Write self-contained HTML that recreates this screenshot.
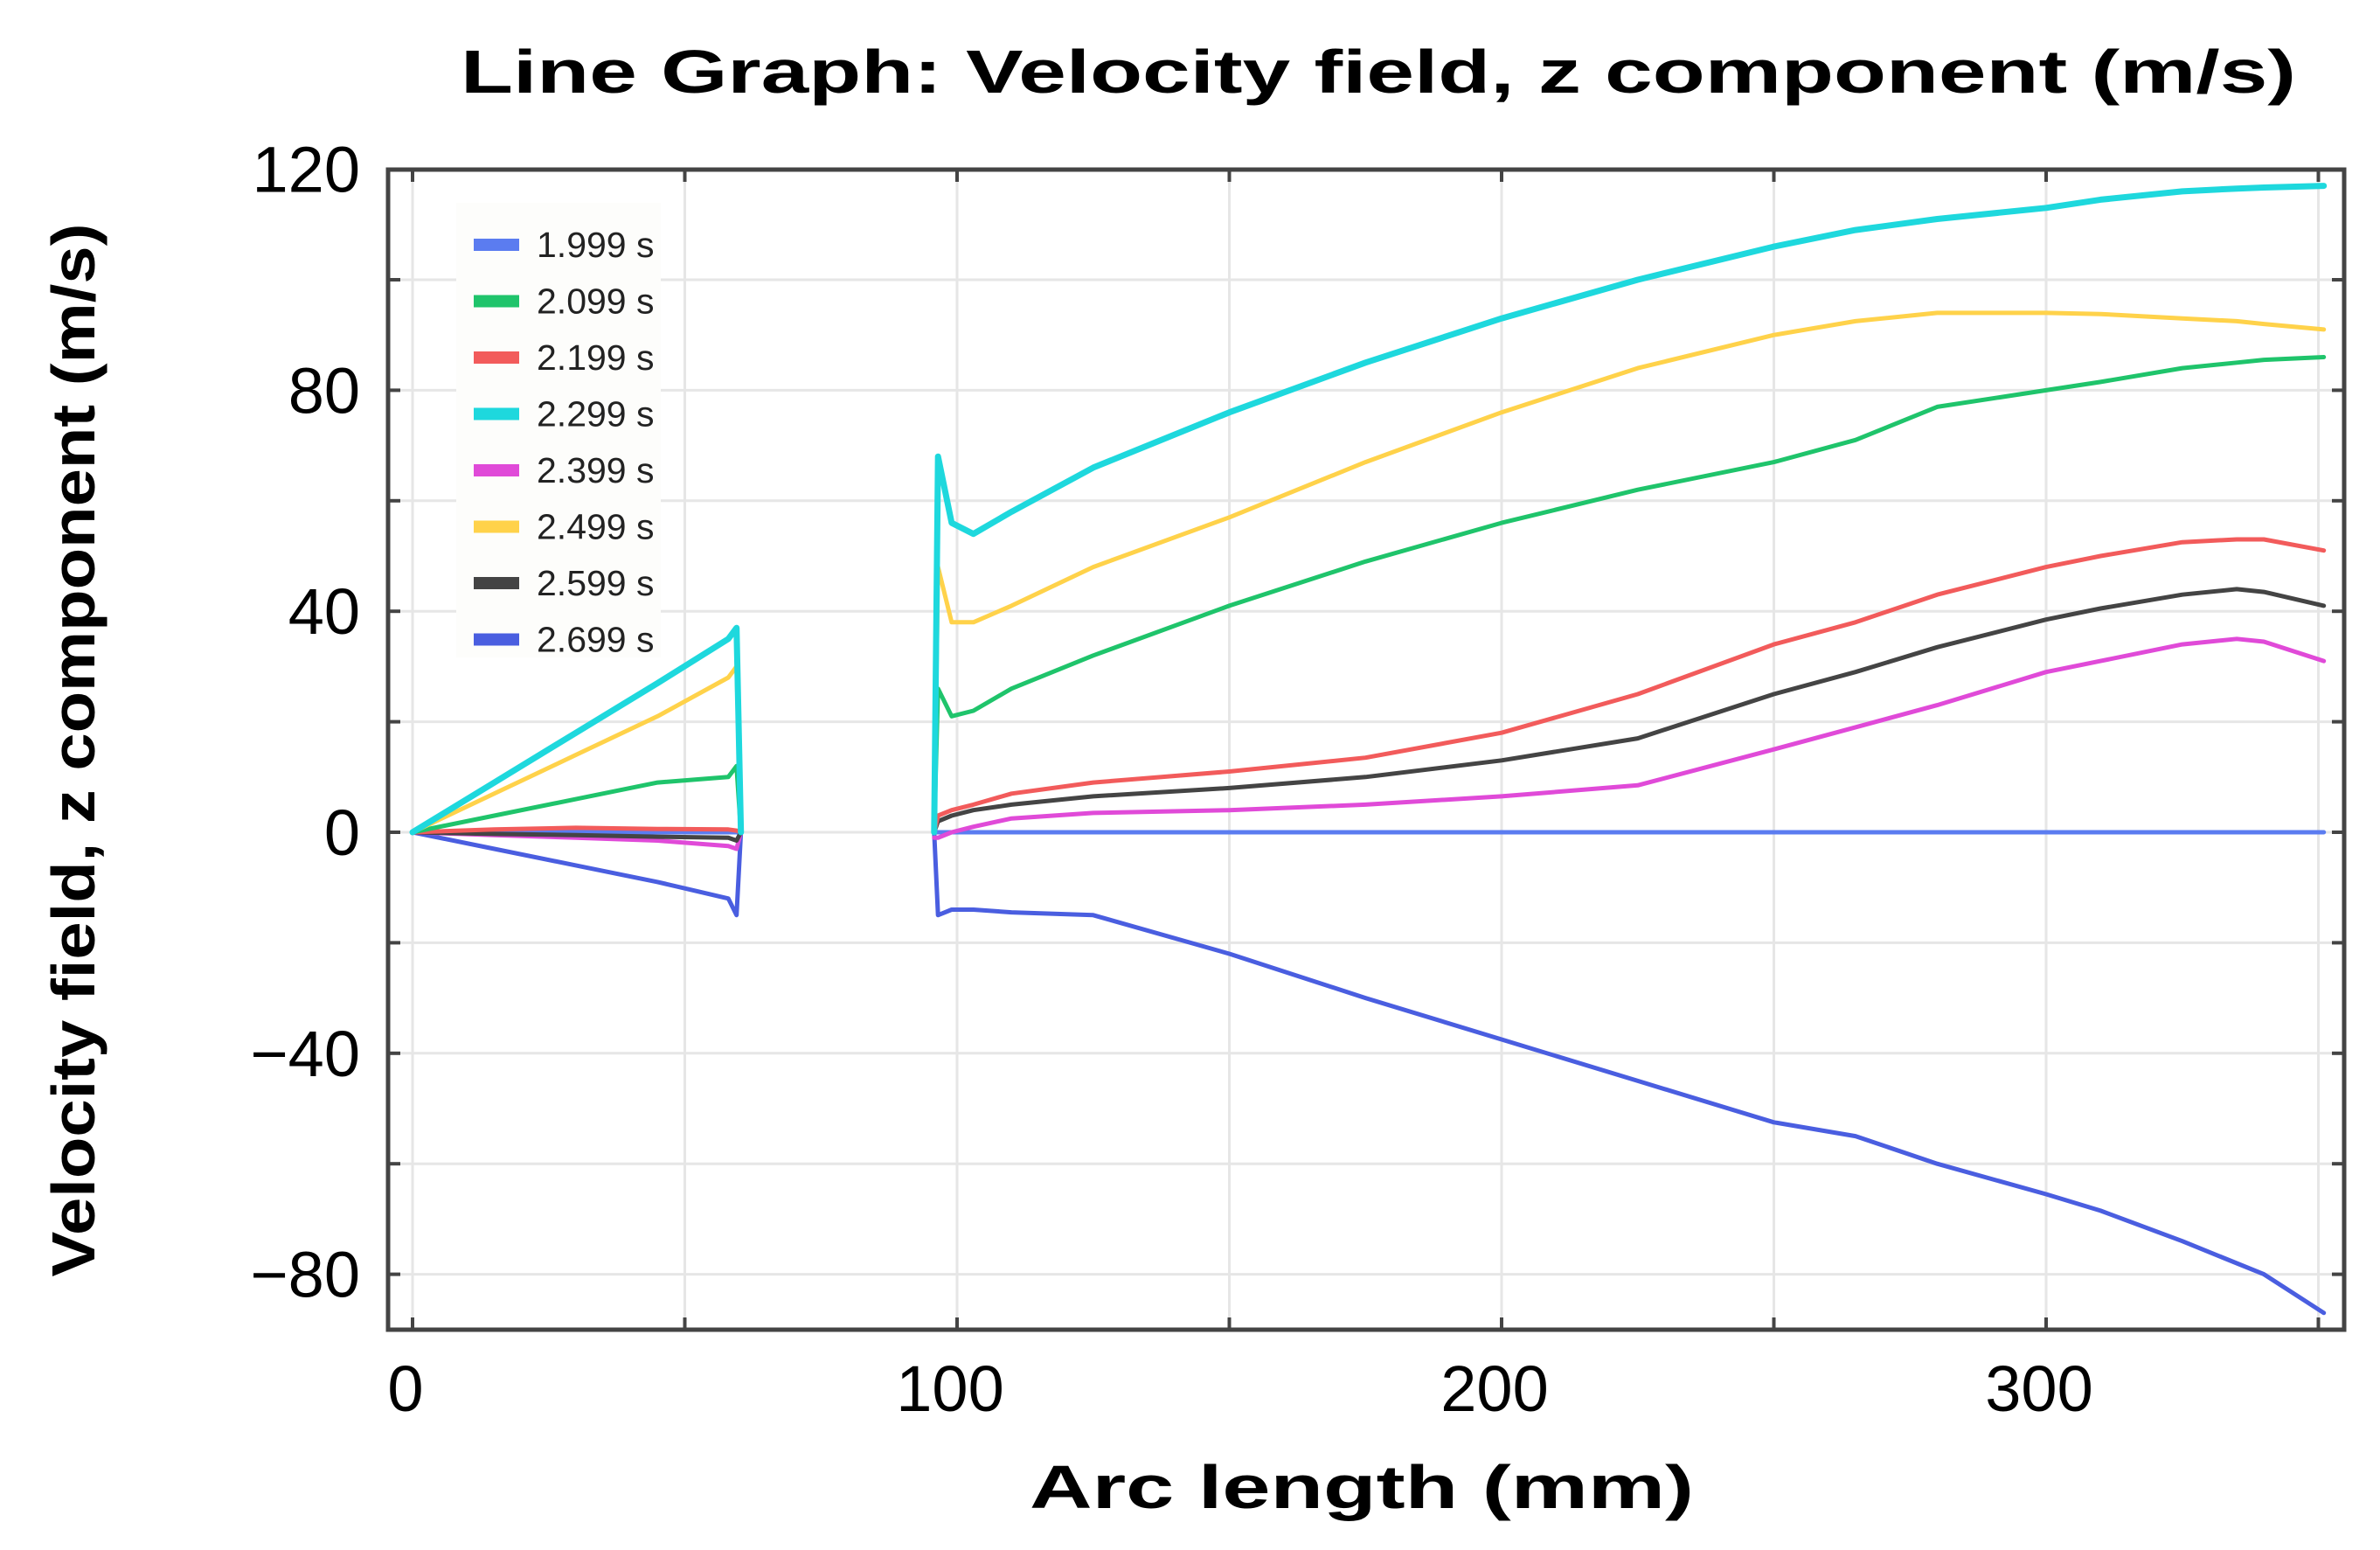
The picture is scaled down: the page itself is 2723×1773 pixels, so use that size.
<!DOCTYPE html>
<html><head><meta charset="utf-8"><style>
html,body{margin:0;padding:0;background:#fff;}
svg{display:block;font-family:"Liberation Sans",sans-serif;}
</style></head><body>
<svg id="chart" width="2723" height="1773" viewBox="0 0 2723 1773">
<text x="1577" y="106" text-anchor="middle" font-size="70" font-weight="bold" textLength="2100" lengthAdjust="spacingAndGlyphs">Line Graph: Velocity field, z component (m/s)</text>
<text transform="translate(108,858) rotate(-90)" text-anchor="middle" font-size="70" font-weight="bold" textLength="1205" lengthAdjust="spacingAndGlyphs">Velocity field, z component (m/s)</text>
<text x="1558" y="1725" text-anchor="middle" font-size="70" font-weight="bold" textLength="760" lengthAdjust="spacingAndGlyphs">Arc length (mm)</text>
<g id="grid"></g>
<g id="series"></g>
<rect x="444" y="194" width="2238" height="1327" fill="none" stroke="#444" stroke-width="5"/>
<g id="ticks"></g>
<g id="legend"></g>
</svg>
<script>
const xTicks=[0,100,200,300];
const xGrid=[0,50,100,150,200,250,300,350];
const yTicks=[120,80,40,0,-40,-80];
const yGrid=[120,100,80,60,40,20,0,-20,-40,-60,-80];
const seriesNames=["1.999 s","2.099 s","2.199 s","2.299 s","2.399 s","2.499 s","2.599 s","2.699 s"];
const seriesColors=["#5b7cf0","#1fc46b","#f25b5b","#1ed8dd","#e04ad8","#ffd24a","#444444","#4a5ee0"];
const drawOrder=[0,7,4,6,2,1,5,3];
// x values (mm), null = gap
const xSeg=[0,15,30,45,58,59.5,60.3,null,95.8,96.5,99,103,110,125,150,175,200,225,250,265,280,300,310,325,335,340,351];
const s1999=[0,0,0,0,0,0,0,null,0,0,0,0,0,0,0,0,0,0,0,0,0,0,0,0,0,0,0];
const s2099=[0,3,6,9,10,12,0,null,0,26,21,22,26,32,41,49,56,62,67,71,77,80,81.5,84,85,85.5,86];
const s2199=[0,0.5,0.8,0.6,0.5,0.3,0,null,0,3,4,5,7,9,11,13.5,18,25,34,38,43,48,50,52.5,53,53,51];
const s2299=[0,9,18,27,35,37,0,null,0,68,56,54,58,66,76,85,93,100,106,109,111,113,114.5,116,116.5,116.7,117];
const s2399=[0,-0.5,-1,-1.5,-2.5,-3,0,null,-1,-1,0,1,2.5,3.5,4,5,6.5,8.5,15,19,23,29,31,34,35,34.5,31];
const s2499=[0,7,14,21,28,30,0,null,0,48,38,38,41,48,57,67,76,84,90,92.5,94,94,93.8,93,92.5,92,91];
const s2599=[0,-0.3,-0.5,-0.8,-1,-1.5,0,null,0,2,3,4,5,6.5,8,10,13,17,25,29,33.5,38.5,40.5,43,44,43.5,41];
const s2699=[0,-3,-6,-9,-12,-15,0,null,0,-15,-14,-14,-14.5,-15,-22,-30,-37.5,-45,-52.5,-55,-60,-65.5,-68.5,-74,-78,-80,-87];
const allSeries=[s1999,s2099,s2199,s2299,s2399,s2499,s2599,s2699];

const NS="http://www.w3.org/2000/svg";
const X0=472, XS=311.5/50, Y0=952, YS=6.32;
const L=444,R=2682,T=194,B=1521;
function sx(v){return X0+v*XS;}
function sy(v){return Y0-v*YS;}
function mk(tag,attrs,parent){const e=document.createElementNS(NS,tag);for(const k in attrs)e.setAttribute(k,attrs[k]);parent.appendChild(e);return e;}
const grid=document.getElementById('grid'),ticks=document.getElementById('ticks'),ser=document.getElementById('series'),leg=document.getElementById('legend');
xGrid.forEach(v=>{
  const g=mk('line',{x1:sx(v),x2:sx(v),y1:T,y2:B,stroke:'#e6e6e6','stroke-width':3},grid);
  
  
  const t1=mk('line',{x1:sx(v),x2:sx(v),y1:B,y2:B-14,stroke:'#444','stroke-width':4},ticks);
  
  
  const t2=mk('line',{x1:sx(v),x2:sx(v),y1:T,y2:T+14,stroke:'#444','stroke-width':4},ticks);
  
  
});
yGrid.forEach(v=>{
  const g=mk('line',{x1:L,x2:R,y1:sy(v),y2:sy(v),stroke:'#e6e6e6','stroke-width':3},grid);
  
  
  const t1=mk('line',{x1:L,x2:L+14,y1:sy(v),y2:sy(v),stroke:'#444','stroke-width':4},ticks);
  
  
  const t2=mk('line',{x1:R,x2:R-14,y1:sy(v),y2:sy(v),stroke:'#444','stroke-width':4},ticks);
  
  
});
xTicks.forEach(v=>{
  const t=mk('text',{x:sx(v)-8,y:1614,'text-anchor':'middle','font-size':74},ticks);
  t.textContent=String(v);
  
  
});
yTicks.forEach(v=>{
  const t=mk('text',{x:412,y:sy(v)+26,'text-anchor':'end','font-size':74},ticks);
  t.textContent=v<0?'\u2212'+Math.abs(v):String(v);
  
  
});
drawOrder.forEach(i=>{
  const ys=allSeries[i];let d='',pen=false;
  for(let k=0;k<xSeg.length;k++){
    if(xSeg[k]===null||ys[k]===null){pen=false;continue;}
    d+=(pen?'L':'M')+sx(xSeg[k]).toFixed(1)+','+sy(ys[k]).toFixed(1)+' ';pen=true;
  }
  const p=mk('path',{d:d,fill:'none',stroke:seriesColors[i],'stroke-width':i===3?7:5,'stroke-linejoin':'round','stroke-linecap':'round'},ser);
  
  
});
const lb=mk('rect',{x:522,y:232,width:234,height:520,fill:'#fdfdfb'},leg);


seriesNames.forEach((n,i)=>{
  const y=280+i*64.5;
  const s=mk('rect',{x:542,y:y-7,width:52,height:14,fill:seriesColors[i]},leg);
  
  
  const t=mk('text',{x:614,y:y+14,'font-size':41,fill:'#222'},leg);
  t.textContent=n;
  
  
});
</script>
</body></html>
